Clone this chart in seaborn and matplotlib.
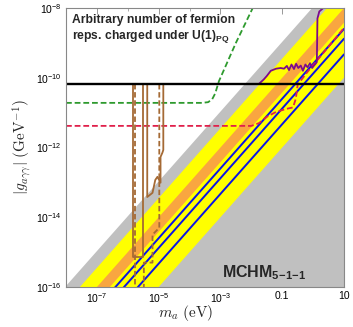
import numpy as np
import pandas as pd
import seaborn as sns
import matplotlib.pyplot as plt
from matplotlib.font_manager import FontProperties
from matplotlib.ticker import FixedLocator, NullFormatter

# ---------------- data (log10 values) ----------------
m_range = [1e-8, 10.0]
g_range = [1e-16, 1e-8]

# bands: log10(g / m) of the band edges, g in GeV^-1, m in eV
band_gray_top = -7.94
band_yellow_top = -8.45
band_orange_top = -9.0
band_orange_bot = -9.42
band_yellow_bot = -11.0

# MCHM model lines, log10(g / m)
model_lines = [-9.6, -9.88, -10.33]

cast_limit = 6.6e-11

iaxo_logm = [-8.0, -3.6, -3.4, -3.27, -3.17, -3.05, -2.5, -1.9]
iaxo_logg = [-10.72, -10.72, -10.7, -10.62, -10.45, -10.1, -9.0, -7.9]

red_logm = [-8.0, -2.0, -1.75, -1.5, -1.2, -0.9, -0.65, -0.56, -0.5, -0.2, 0.3, 1.0]
red_logg = [-11.38, -11.38, -11.3, -11.12, -10.98, -10.9, -10.85, -10.6, -10.2, -9.85, -9.32, -8.57]

purple_logm = [-1.76, -1.6, -1.5, -1.37, -1.2, -1.05, -0.94, -0.85, -0.78, -0.7, -0.62,
               -0.55, -0.48, -0.4, -0.33, -0.25, -0.18, -0.1, -0.03, 0.03, 0.08, 0.12,
               0.13, 0.14, 0.2, 0.33]
purple_logg = [-10.18, -10.05, -9.95, -9.8, -9.74, -9.72, -9.74, -9.66, -9.78, -9.62, -9.75,
               -9.6, -9.72, -9.65, -9.8, -9.62, -9.7, -9.58, -9.72, -9.65, -9.6, -9.55,
               -9.0, -8.3, -8.1, -8.0]

# haloscope limits (solid and dashed), segment id, log m, log g
brown_solid_seg = [0, 0, 0, 0, 1, 1, 1, 1, 1, 1, 1, 1, 1, 1]
brown_solid_logm = [-5.82, -5.82, -5.50, -5.50,
                    -5.37, -5.37, -5.2, -5.11, -5.04, -4.94, -4.94, -4.88, -4.85, -4.85]
brown_solid_logg = [-10.18, -15.13, -15.13, -10.18,
                    -10.18, -13.42, -13.3, -12.93, -12.84, -13.01, -12.27, -12.15, -12.07, -10.18]

brown_dash_seg = [0, 0, 1, 1, 1, 1, 1, 1]
brown_dash_logm = [-5.76, -5.76, -4.98, -4.98, -5.2, -5.2, -5.48, -5.48]
brown_dash_logg = [-10.18, -16.0, -10.18, -14.3, -14.5, -15.3, -15.3, -16.0]

# ---------------- style ----------------
sns.set_style("white")
plt.rcParams["font.family"] = ["Liberation Sans", "DejaVu Sans"]
plt.rcParams["mathtext.fontset"] = "custom"
plt.rcParams["mathtext.rm"] = "Liberation Sans"
plt.rcParams["mathtext.bf"] = "Liberation Sans:bold"
plt.rcParams["mathtext.it"] = "Liberation Sans:italic"

fig = plt.figure(figsize=(3.53, 3.27), dpi=100)
ax = fig.add_axes([0.187, 0.1223, 0.7875, 0.8532])
ax.set_xscale("log")
ax.set_yscale("log")

m = np.array(m_range)
c_gray = "#c0c0c0"
c_yel = "#ffff00"
c_org = "#f9a640"

ax.fill_between(m, g_range[0], 10**band_gray_top * m, color=c_gray, lw=0, zorder=1)
ax.fill_between(m, 10**band_yellow_bot * m, 10**band_yellow_top * m, color=c_yel, lw=0, zorder=2)
ax.fill_between(m, 10**band_orange_bot * m, 10**band_orange_top * m, color=c_org, lw=0, zorder=3)

for c in model_lines:
    sns.lineplot(x=m, y=10**c * m, color="#0a14e6", lw=1.4, ax=ax, zorder=6)

sns.lineplot(x=m, y=[cast_limit, cast_limit], color="black", lw=1.7, ax=ax, zorder=8)

sns.lineplot(x=10**np.array(iaxo_logm), y=10**np.array(iaxo_logg), sort=False,
             color="#2e9a2e", lw=1.3, ax=ax, zorder=7).lines[-1].set_dashes([3.2, 1.6])
sns.lineplot(x=10**np.array(red_logm), y=10**np.array(red_logg), sort=False,
             color="#e0204a", lw=1.3, ax=ax, zorder=7).lines[-1].set_dashes([3.2, 1.6])
sns.lineplot(x=10**np.array(purple_logm), y=10**np.array(purple_logg), sort=False,
             color="#7d0a8c", lw=1.3, ax=ax, zorder=7)

solid = pd.DataFrame({"seg": brown_solid_seg, "m": 10**np.array(brown_solid_logm),
                      "g": 10**np.array(brown_solid_logg)})
dash = pd.DataFrame({"seg": brown_dash_seg, "m": 10**np.array(brown_dash_logm),
                     "g": 10**np.array(brown_dash_logg)})
sns.lineplot(data=solid, x="m", y="g", units="seg", estimator=None, sort=False,
             color="#a56a35", lw=1.3, ax=ax, zorder=7)
n0 = len(ax.lines)
sns.lineplot(data=dash, x="m", y="g", units="seg", estimator=None, sort=False,
             color="#a56a35", lw=1.3, ax=ax, zorder=7)
for ln in ax.lines[n0:]:
    ln.set_dashes([3.0, 1.5])

ax.set_xlim(m_range)
ax.set_ylim(g_range)

# ticks, Mathematica frame style
xmaj = [1e-7, 1e-5, 1e-3, 1e-1, 10]
xlab = [r"$10^{-7}$", r"$10^{-5}$", r"$10^{-3}$", "0.1", "10"]
ymaj = [1e-16, 1e-14, 1e-12, 1e-10, 1e-8]
ylab = [r"$10^{-16}$", r"$10^{-14}$", r"$10^{-12}$", r"$10^{-10}$", r"$10^{-8}$"]
ax.set_xticks(xmaj)
ax.set_xticklabels(xlab)
ax.set_yticks(ymaj)
ax.set_yticklabels(ylab)
ax.xaxis.set_minor_locator(FixedLocator([1e-8, 1e-6, 1e-4, 1e-2, 1]))
ax.yaxis.set_minor_locator(FixedLocator([1e-15, 1e-13, 1e-11, 1e-9]))
ax.xaxis.set_minor_formatter(NullFormatter())
ax.yaxis.set_minor_formatter(NullFormatter())
ax.tick_params(which="both", direction="in", top=True, right=True, color="#888888",
               labelsize=7.5, labelcolor="black", pad=3)
ax.tick_params(which="major", length=4, width=0.6)
ax.tick_params(which="minor", length=2.5, width=0.5)
for s in ax.spines.values():
    s.set_color("#888888")
    s.set_linewidth(0.8)
    s.set_zorder(10)

cm = FontProperties(size=11, math_fontfamily="cm")
xl = ax.set_xlabel(r"$m_a\ (\mathrm{eV})$", fontproperties=cm, labelpad=0)
xl.set_va("center")
ax.xaxis.set_label_coords(0.43, -0.093)
ax.set_ylabel(r"$|g_{a\gamma\gamma}|\ (\mathrm{GeV}^{-1})$", fontproperties=cm, labelpad=2)

ax.text(0.022, 0.978, "Arbitrary number of fermion\nreps. charged under U(1)$_{\\mathbf{PQ}}$",
        transform=ax.transAxes, ha="left", va="top", fontsize=8.7, fontweight="bold",
        linespacing=1.2, zorder=12)
ax.text(0.56, 0.035, r"$\mathbf{MCHM}_{\mathbf{5\!-\!1\!-\!1}}$", transform=ax.transAxes,
        ha="left", va="baseline", fontsize=11.5, zorder=12)

fig.savefig("out.png", dpi=100)
